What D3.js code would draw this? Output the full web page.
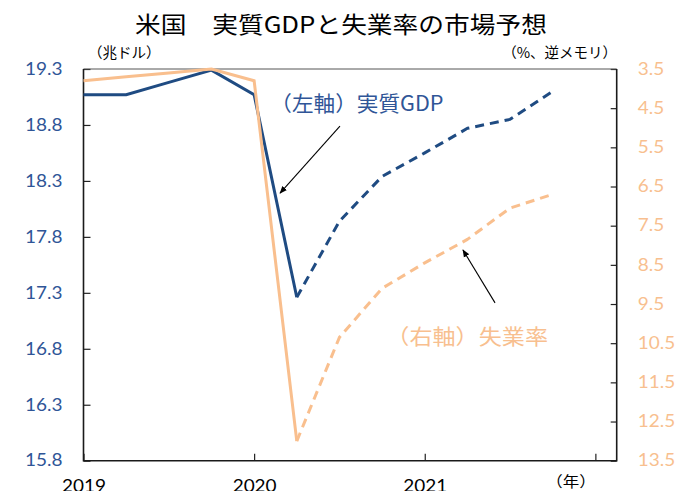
<!DOCTYPE html>
<html>
<head>
<meta charset="utf-8">
<script src="https://cdn.jsdelivr.net/npm/d3@7"></script>
<style>
  html, body { margin: 0; padding: 0; background: #fff; }
  svg { display: block; }
</style>
</head>
<body>
<div id="chart"></div>
<script>
// -------- Data --------
const quarters = ["2019Q1", "2019Q2", "2019Q3", "2019Q4", "2020Q1", "2020Q2",
                  "2020Q3", "2020Q4", "2021Q1", "2021Q2", "2021Q3", "2021Q4"];
const gdpValues = [19.07, 19.07, 19.18, 19.29, 19.07, 17.26, 17.94, 18.34, 18.55, 18.77, 18.85, 19.10];
const unempValues = [3.8, 3.7, 3.6, 3.5, 3.8, 13.0, 10.35, 9.1, 8.45, 7.85, 7.05, 6.7];
const lastActual = 5; // 2020Q2, forecasts after this are dashed

const leftTicks = [15.8, 16.3, 16.8, 17.3, 17.8, 18.3, 18.8, 19.3];
const rightTicks = [3.5, 4.5, 5.5, 6.5, 7.5, 8.5, 9.5, 10.5, 11.5, 12.5, 13.5];
const yearTicks = [2019, 2020, 2021, 2022];
const yearLabels = ["2019", "2020", "2021", ""];

const title = "米国　実質GDPと失業率の市場予想";
const leftUnit = "（兆ドル）";
const rightUnit = "（%、逆メモリ）";
const xUnit = "（年）";
const gdpLabel = "（左軸）実質GDP";
const unempLabel = "（右軸）失業率";

// -------- Style --------
const BLUE = "#1f4b82";
const BLUE_TEXT = "#2f5597";
const ORANGE = "#f9bf8e";
const ORANGE_TEXT = "#f8bf8f";
const SX = 1.15; // the original picture is a little wider than tall
const NUM_FONT = "Lato, 'Noto Sans CJK JP', sans-serif";
const JP_FONT = "'Noto Sans CJK JP', sans-serif";

const W = 680, H = 491;
const plot = { left: 83.5, right: 616.7, top: 69, bottom: 460.7 };

function quarterToYear(q) {
  const [y, n] = q.split("Q").map(Number);
  return y + (n - 1) / 4;
}

const points = quarters.map((q, i) => ({
  t: quarterToYear(q),
  gdp: gdpValues[i],
  unemp: unempValues[i],
  i
}));

const svg = d3.select("#chart").append("svg")
  .attr("width", W)
  .attr("height", H);

const x = d3.scaleLinear()
  .domain([2019, 2022.125])
  .range([plot.left, plot.right]);

const yL = d3.scaleLinear()
  .domain([15.8, 19.3])
  .range([plot.bottom, plot.top]);

const yR = d3.scaleLinear()
  .domain([3.5, 13.5])
  .range([plot.top, plot.bottom]);

// text helper: places text, stretched horizontally
function addText(sel, tx, ty, str, opts) {
  return sel.append("text")
    .attr("transform", `translate(${tx},${ty}) scale(${opts.sx || SX},1)`)
    .attr("text-anchor", opts.anchor || "start")
    .attr("dominant-baseline", opts.baseline || "alphabetic")
    .attr("font-family", opts.font || JP_FONT)
    .attr("font-size", opts.size)
    .attr("fill", opts.color || "#000")
    .text(str);
}

function stretchTicks(g) {
  g.selectAll(".tick text").each(function() {
    const t = d3.select(this);
    const xv = +t.attr("x") || 0;
    const yv = +t.attr("y") || 0;
    t.attr("x", xv / SX).attr("transform", `scale(${SX},1)`).attr("y", yv);
  });
}

// -------- Axes --------
const gLeft = svg.append("g")
  .attr("transform", `translate(${plot.left},0)`)
  .call(d3.axisLeft(yL).tickValues(leftTicks).tickSize(-7).tickPadding(21)
    .tickFormat(d3.format(".1f")));
gLeft.select(".domain").remove();
gLeft.selectAll(".tick line").attr("stroke", "#222").attr("stroke-width", 1.2);
gLeft.selectAll(".tick text")
  .attr("font-family", NUM_FONT).attr("font-size", 16.5).attr("fill", BLUE_TEXT);
stretchTicks(gLeft);

const gRight = svg.append("g")
  .attr("transform", `translate(${plot.right},0)`)
  .call(d3.axisRight(yR).tickValues(rightTicks).tickSize(-6).tickPadding(21)
    .tickFormat(d3.format(".1f")));
gRight.select(".domain").remove();
gRight.selectAll(".tick line").attr("stroke", "#222").attr("stroke-width", 1.2);
gRight.selectAll(".tick text")
  .attr("font-family", NUM_FONT).attr("font-size", 16.5).attr("fill", ORANGE_TEXT);
stretchTicks(gRight);

const gBottom = svg.append("g")
  .attr("transform", `translate(0,${plot.bottom})`)
  .call(d3.axisBottom(x).tickValues(yearTicks).tickSize(-7).tickPadding(20)
    .tickFormat((d, i) => yearLabels[i]));
gBottom.select(".domain").remove();
gBottom.selectAll(".tick line").attr("stroke", "#222").attr("stroke-width", 1.2);
gBottom.selectAll(".tick text")
  .attr("font-family", NUM_FONT).attr("font-size", 16.5).attr("fill", "#000");
stretchTicks(gBottom);

// frame
svg.append("line")
  .attr("x1", plot.left).attr("x2", plot.right)
  .attr("y1", plot.top).attr("y2", plot.top)
  .attr("stroke", "#555").attr("stroke-width", 1);
svg.append("path")
  .attr("d", `M${plot.left},${plot.top}V${plot.bottom}H${plot.right}V${plot.top}`)
  .attr("fill", "none")
  .attr("stroke", "#1a1a1a")
  .attr("stroke-width", 1.6);

// -------- Lines --------
const gdpLine = d3.line().x(d => x(d.t)).y(d => yL(d.gdp));
const unempLine = d3.line().x(d => x(d.t)).y(d => yR(d.unemp));

const actual = points.filter(d => d.i <= lastActual);
const forecast = points.filter(d => d.i >= lastActual);

function drawSeries(lineGen, color) {
  svg.append("path")
    .datum(actual)
    .attr("d", lineGen)
    .attr("fill", "none")
    .attr("stroke", color)
    .attr("stroke-width", 3)
    .attr("stroke-linejoin", "miter");
  svg.append("path")
    .datum(forecast)
    .attr("d", lineGen)
    .attr("fill", "none")
    .attr("stroke", color)
    .attr("stroke-width", 3)
    .attr("stroke-dasharray", "9,6")
    .attr("stroke-linejoin", "round");
}

drawSeries(gdpLine, BLUE);
drawSeries(unempLine, ORANGE);

// -------- Annotations --------
svg.append("defs").append("marker")
  .attr("id", "arrow")
  .attr("viewBox", "0 0 10 10")
  .attr("refX", 9).attr("refY", 5)
  .attr("markerWidth", 7).attr("markerHeight", 7)
  .attr("orient", "auto")
  .append("path")
  .attr("d", "M0,1L10,5L0,9Z")
  .attr("fill", "#000");

// arrows in data coordinates: [from t, from v, to t, to v]
const gdpArrow = [2020.503, 18.79, 2020.152, 18.19];
const unempArrow = [2021.412, 9.47, 2021.224, 8.12];

svg.append("line")
  .attr("x1", x(gdpArrow[0])).attr("y1", yL(gdpArrow[1]))
  .attr("x2", x(gdpArrow[2])).attr("y2", yL(gdpArrow[3]))
  .attr("stroke", "#000").attr("stroke-width", 1.1)
  .attr("marker-end", "url(#arrow)");

svg.append("line")
  .attr("x1", x(unempArrow[0])).attr("y1", yR(unempArrow[1]))
  .attr("x2", x(unempArrow[2])).attr("y2", yR(unempArrow[3]))
  .attr("stroke", "#000").attr("stroke-width", 1.1)
  .attr("marker-end", "url(#arrow)");

addText(svg, x(2020.095), yL(19.01), gdpLabel,
  { size: 21, color: BLUE_TEXT, baseline: "central", sx: 1.03 });
addText(svg, x(2020.775), yR(10.27), unempLabel,
  { size: 21, color: ORANGE_TEXT, baseline: "central", sx: 1.1 });

// -------- Titles and units --------
addText(svg, W / 2 + 1, 33, title, { size: 23, anchor: "middle", sx: 1.12 });
addText(svg, 88, 58, leftUnit, { size: 14.5, sx: 1.0 });
addText(svg, 617, 58, rightUnit, { size: 14.5, anchor: "end", sx: 1.0 });
addText(svg, 571, 487, xUnit, { size: 15, anchor: "middle", sx: 1.1 });
</script>
</body>
</html>
